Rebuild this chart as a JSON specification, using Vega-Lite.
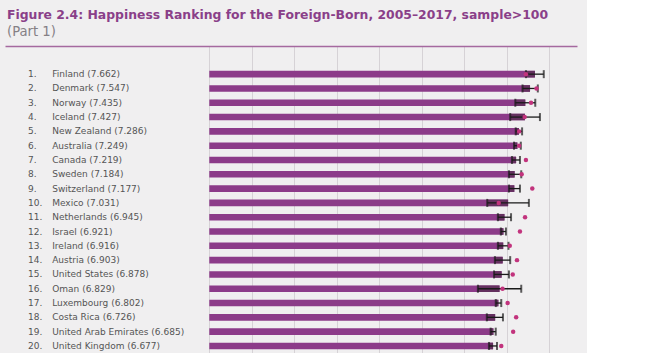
{
  "$schema": "https://vega.github.io/schema/vega-lite/v6.json",
  "width": 572,
  "height": 307,
  "autosize": {"type": "none"},
  "padding": {"left": 5, "right": 10, "top": 46, "bottom": 0},
  "background": "#f0eff0",
  "title": {
    "text": "Figure 2.4: Happiness Ranking for the Foreign-Born, 2005–2017, sample>100",
    "subtitle": "(Part 1)",
    "anchor": "start",
    "frame": "group",
    "dx": 2,
    "offset": 8,
    "font": "DejaVu Sans",
    "fontSize": 12.4,
    "fontWeight": "bold",
    "color": "#8a3f89",
    "subtitleFont": "DejaVu Sans",
    "subtitleFontSize": 13.2,
    "subtitleColor": "#858085",
    "subtitlePadding": 4
  },
  "data": {
    "values": [
      {"rank": 1, "name": "Finland (7.662)", "value": 7.662, "lo": 7.45, "hi": 7.87, "dot": 7.45},
      {"rank": 2, "name": "Denmark (7.547)", "value": 7.547, "lo": 7.37, "hi": 7.73, "dot": 7.70},
      {"rank": 3, "name": "Norway (7.435)", "value": 7.435, "lo": 7.20, "hi": 7.67, "dot": 7.57},
      {"rank": 4, "name": "Iceland (7.427)", "value": 7.427, "lo": 7.08, "hi": 7.78, "dot": 7.42},
      {"rank": 5, "name": "New Zealand (7.286)", "value": 7.286, "lo": 7.21, "hi": 7.36, "dot": 7.29},
      {"rank": 6, "name": "Australia (7.249)", "value": 7.249, "lo": 7.17, "hi": 7.33, "dot": 7.29},
      {"rank": 7, "name": "Canada (7.219)", "value": 7.219, "lo": 7.12, "hi": 7.31, "dot": 7.45},
      {"rank": 8, "name": "Sweden (7.184)", "value": 7.184, "lo": 7.05, "hi": 7.34, "dot": 7.35},
      {"rank": 9, "name": "Switzerland (7.177)", "value": 7.177, "lo": 7.05, "hi": 7.31, "dot": 7.60},
      {"rank": 10, "name": "Mexico (7.031)", "value": 7.031, "lo": 6.54, "hi": 7.52, "dot": 6.81},
      {"rank": 11, "name": "Netherlands (6.945)", "value": 6.945, "lo": 6.79, "hi": 7.10, "dot": 7.43},
      {"rank": 12, "name": "Israel (6.921)", "value": 6.921, "lo": 6.86, "hi": 6.98, "dot": 7.31},
      {"rank": 13, "name": "Ireland (6.916)", "value": 6.916, "lo": 6.79, "hi": 7.04, "dot": 7.07},
      {"rank": 14, "name": "Austria (6.903)", "value": 6.903, "lo": 6.72, "hi": 7.08, "dot": 7.24},
      {"rank": 15, "name": "United States (6.878)", "value": 6.878, "lo": 6.70, "hi": 7.05, "dot": 7.14},
      {"rank": 16, "name": "Oman (6.829)", "value": 6.829, "lo": 6.32, "hi": 7.34, "dot": 6.90},
      {"rank": 17, "name": "Luxembourg (6.802)", "value": 6.802, "lo": 6.74, "hi": 6.87, "dot": 7.02},
      {"rank": 18, "name": "Costa Rica (6.726)", "value": 6.726, "lo": 6.53, "hi": 6.91, "dot": 7.22},
      {"rank": 19, "name": "United Arab Emirates (6.685)", "value": 6.685, "lo": 6.62, "hi": 6.74, "dot": 7.15},
      {"rank": 20, "name": "United Kingdom (6.677)", "value": 6.677, "lo": 6.58, "hi": 6.77, "dot": 6.87}
    ]
  },
  "resolve": {"axis": {"y": "independent"}},
  "layer": [
    {
      "mark": {"type": "bar", "color": "#8c3b89"},
      "encoding": {
        "y": {
          "field": "name", "type": "nominal", "sort": {"field": "rank", "order": "ascending"},
          "scale": {"paddingInner": 0.54, "paddingOuter": 1.12, "align": 0.869},
          "axis": {"orient": "left", "title": null, "domain": false, "ticks": false, "tickSize": 0, "grid": false,
                   "labelAlign": "left", "labelBaseline": "middle", "labelPadding": -46.7,
                   "labelFont": "DejaVu Sans", "labelFontSize": 9, "labelColor": "#555555", "labelLimit": 0}
        },
        "x": {
          "field": "value", "type": "quantitative",
          "scale": {"domain": [-4.807, 8.652], "nice": false},
          "axis": {"values": [0, 1, 2, 3, 4, 5, 6, 7, 8]}
        },
        "x2": {"datum": 0}
      }
    },
    {
      "mark": {"type": "bar", "color": "#64305f"},
      "encoding": {
        "y": {"field": "name", "type": "nominal", "sort": {"field": "rank", "order": "ascending"},
              "scale": {"paddingInner": 0.54, "paddingOuter": 1.12, "align": 0.869}, "axis": null},
        "x": {"field": "lo", "type": "quantitative", "scale": {"domain": [-4.807, 8.652], "nice": false},
              "axis": {"values": [0, 1, 2, 3, 4, 5, 6, 7, 8]}},
        "x2": {"field": "value"}
      }
    },
    {
      "mark": {"type": "rule", "color": "#1a1a1a", "strokeWidth": 1.3},
      "encoding": {
        "y": {
          "field": "name", "type": "nominal", "sort": {"field": "rank", "order": "ascending"},
          "scale": {"paddingInner": 0.54, "paddingOuter": 1.12, "align": 0.869},
          "axis": {"orient": "left", "title": null, "domain": false, "ticks": false, "tickSize": 0, "grid": false,
                   "labelAlign": "left", "labelBaseline": "middle", "labelPadding": -22.5,
                   "labelExpr": "(indexof(domain('y'), datum.value) + 1) + '.'",
                   "labelFont": "DejaVu Sans", "labelFontSize": 9, "labelColor": "#555555"}
        },
        "x": {"field": "lo", "type": "quantitative", "scale": {"domain": [-4.807, 8.652], "nice": false},
              "axis": {"values": [0, 1, 2, 3, 4, 5, 6, 7, 8]}},
        "x2": {"field": "hi"}
      }
    },
    {
      "mark": {"type": "tick", "color": "#1a1a1a", "thickness": 2, "size": 8},
      "encoding": {
        "y": {"field": "name", "type": "nominal", "sort": {"field": "rank", "order": "ascending"},
              "scale": {"paddingInner": 0.54, "paddingOuter": 1.12, "align": 0.869}, "axis": null},
        "x": {"field": "lo", "type": "quantitative", "scale": {"domain": [-4.807, 8.652], "nice": false},
              "axis": {"values": [0, 1, 2, 3, 4, 5, 6, 7, 8]}}
      }
    },
    {
      "mark": {"type": "tick", "color": "#1a1a1a", "thickness": 2, "size": 8},
      "encoding": {
        "y": {"field": "name", "type": "nominal", "sort": {"field": "rank", "order": "ascending"},
              "scale": {"paddingInner": 0.54, "paddingOuter": 1.12, "align": 0.869}, "axis": null},
        "x": {"field": "hi", "type": "quantitative", "scale": {"domain": [-4.807, 8.652], "nice": false},
              "axis": {"values": [0, 1, 2, 3, 4, 5, 6, 7, 8]}}
      }
    },
    {
      "mark": {"type": "circle", "color": "#c2337d", "opacity": 1, "size": 20},
      "encoding": {
        "y": {"field": "name", "type": "nominal", "sort": {"field": "rank", "order": "ascending"},
              "scale": {"paddingInner": 0.54, "paddingOuter": 1.12, "align": 0.869}, "axis": null},
        "x": {"field": "dot", "type": "quantitative", "scale": {"domain": [-4.807, 8.652], "nice": false},
              "axis": {"values": [0, 1, 2, 3, 4, 5, 6, 7, 8]}}
      }
    }
  ],
  "config": {
    "view": {"stroke": null},
    "axisX": {
      "orient": "top", "grid": true, "gridColor": "#d6d2d6", "gridWidth": 1,
      "labels": false, "ticks": false, "domain": true, "domainColor": "#a5699f", "domainWidth": 1.6, "title": null
    }
  }
}
